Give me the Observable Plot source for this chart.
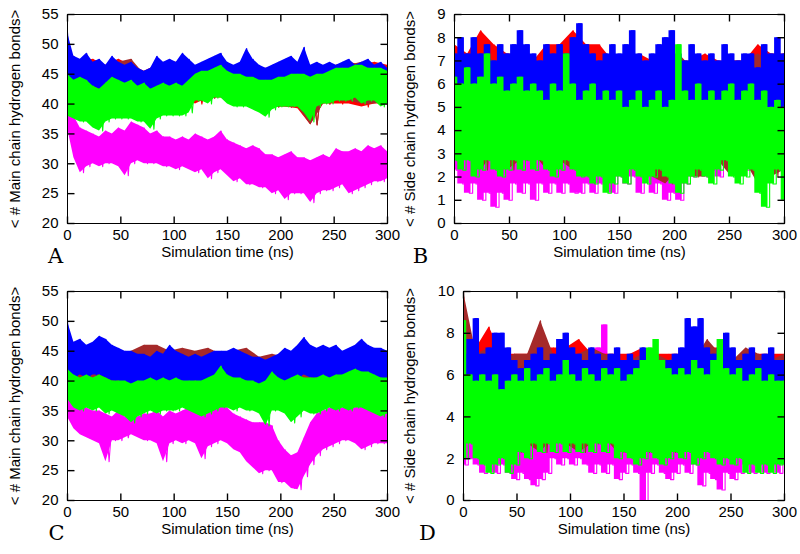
<!DOCTYPE html>
<html><head><meta charset="utf-8">
<script src="https://cdn.jsdelivr.net/npm/d3@7"></script>
<script src="https://cdn.jsdelivr.net/npm/@observablehq/plot@0.6"></script>
<style>
html,body{margin:0;padding:0;background:#fff;}
#fig{position:relative;width:800px;height:554px;overflow:hidden;}
#fig > div, #fig > svg{position:absolute;}
</style></head><body><div id="fig"></div>
<script>
// ---------- sampling grids (ns) ----------
const timeFine = [0,6,12,18,24,30,36,42,48,54,60,66,72,78,84,90,96,102,108,114,120,126,132,138,144,150,156,162,168,174,180,186,192,198,204,210,216,222,228,234,240,246,252,258,264,270,276,282,288,294,300];
const timeCoarse = [0,12,24,36,48,60,72,84,96,108,120,132,144,156,168,180,192,204,216,228,240,252,264,276,288,300];
const xTicks = [0,50,100,150,200,250,300];
const mainTicks = [20,25,30,35,40,45,50,55];
const sideTicksB = [0,1,2,3,4,5,6,7,8,9];
const sideTicksD = [0,2,4,6,8,10];
const xLabel = "Simulation time (ns)";
const mainLabel = "< # Main chain hydrogen bonds>";
const sideLabel = "< # Side chain hydrogen bonds>";
const colors = {red:"#ff0000", brown:"#a52a2a", magenta:"#ff00ff", blue:"#0000ff", green:"#00ff00"};

// ---------- Panel A : main chain (upper envelope / lower envelope) ----------
const aRedHi = [49,47,47.5,46.5,47.5,46.5,45.5,46.5,47,47,46,46.5,47,46,46.5,46,46,46.5,46,46,46,46.5,47,46.5,47,46.5];
const aRedLo = [40.5,41,40,40,40,40,40,40,41,41,40,41,41,40,40,39,39.5,39.5,39.2,36.5,40,40,40,39.5,40,40];
const aBrownHi = [48,46.5,47,46,47,47.5,45,46,46.5,46,45.5,46,46.5,46,46,45.5,45.5,46,46.5,45.5,46,46,46.5,47,46.5,46];
const aBrownLo = [41,40.5,40.5,40.5,40.5,40.5,40.5,40.5,41,41,40.5,41,41.5,40.5,40,39.5,39.5,39.5,39.5,36.5,40,40.5,40.5,40,40,40.5];
const aMagHi = [40,38,36,35.5,35,34.5,35.5,35,36,35.5,37,36.5,36,35,35.5,34.5,34.5,34,34.5,34,35,34.5,34,34.5,35.5,34,33.5,33,32.5,33,32.5,31.5,31.5,31,31.5,32,31,31,30.5,31,31.5,31,32.5,32,32,32.5,32,33,32.5,33,32];
const aMagLo = [36,31,28.5,29.5,30,29.5,30,30,29.5,28,30,30.5,30,30,30,29.5,29.5,29,29.5,29,28.5,29,27.5,28.5,29,28,27,27.5,26.5,26.5,26,26,25,25.5,24,25,25,25,23.5,25,25.5,25.5,26,26.5,25,25.5,26,26.5,27,27,27.5];
const aBlueHi = [52,48,47.5,48.5,47,47.5,46.5,48,47,46.5,47,46,45.5,46,48,47,47.5,47,48.5,47.5,46.5,47,47.5,48,48.5,47,46.5,47,49.3,47.5,46.5,46,46.5,47,47.5,48,47,49.5,46.5,47,46.5,47,46.5,47,47.5,46.5,47,47.5,46.5,47,46];
const aBlueLo = [44,43,43.5,42.5,43,42.5,42,42.5,42,42.5,41.5,42,41,41,42,42.5,43,42.5,43,42.5,43,43.5,43,43.5,44,43.5,43,43.5,43,43,42.5,42.5,42.5,43,43,43.5,43,43,43.5,43.5,43.5,43.5,43.5,43,42.5,41,42,43,43,43.5,43];
const aGreenHi = [45,44,44.5,44,43,42.5,43.5,44.5,44,43.5,44,43,43.5,42.5,43,43.5,43,43.5,43,44,45,45.5,45.5,46,46.5,45.5,45,45,44.5,44.5,44,44,44,44.5,44.5,45,45,45,44.5,45,45,45.5,46,46,46,46.5,46.5,46,46,46,45.5];
const aGreenLo = [38,37.5,37,37,36,35.5,37,37.5,37.5,37.5,37.5,37,37,35.8,37.5,38,38,38,38,38.5,40.5,40.5,40,41,41,40,39.5,39.5,39.5,39,38.5,37.8,39,39.5,39.5,39.5,39.5,38.5,37,39.5,40,40,40.5,40.5,40.5,41,40,40.5,40.5,39.5,40];

// ---------- Panel B : side chain ----------
const bRedHi = [7.7,7.3,8.3,7.7,7.3,7.3,7,7.7,7.7,8.3,7.7,7.7,7,7,7.3,7,7.3,7,7,7.3,7,7,7,7.7,7.3,7.3];
const bRedLo = [4,3.7,4,3.7,4,3.7,4.3,4,3.7,4,3.7,4,4.3,4,3.7,4,4.3,4,3.7,4,4.3,4,3.7,4,4.3,4];
const bBrownHi = [7,6.7,7.3,7,6.7,7,7,6.7,7.3,7,6.7,7,6.7,7,7,6.7,7,7.3,6.7,7,6.7,7,7,7.3,7,7.3];
const bBrownLo = [3.3,3,2.3,3,2.3,2.7,3,2.3,2.7,2.3,2.7,2.7,2.7,2.7,2.3,2,1.7,2.3,2,2,2.7,2,2.7,1.7,2,2.3];
const bMagHi = [5,4.7,5,4.7,4.3,5,4.7,4.3,4.7,5,5.3,4.7,5,4.7,4.3,4.7,5,4.7,4.3,4.7,4.3,4.7,5,4.7,4.3,4.7,5,4.7,4.3,4.7,4.7,4.3,4.7,5,4.7,5,5.3,5,4.7,5,5.3,5,5.3,5.7,5.3,6,6.7,6.3,5,4.7,4.7];
const bMagLo = [2.3,1.7,1.3,1.7,1,1.3,0.7,1.3,1,1.7,1.3,1.7,1,1.7,1.3,1.7,1.3,1.7,1.3,1.3,1.7,1.3,1.7,1.7,1.3,2,1.7,2,1.3,2,1.3,1.7,1,1.3,1,1.7,2,2.3,2,2.3,2,2.7,2.3,2.7,2.3,2.7,2.3,2.7,2.3,2.7,2.3];
const bBlueHi = [7.3,8,7.3,8,7.3,7.7,7,7.7,7.3,7.7,8.3,7.7,7.3,7,7.7,7.3,7.7,7.3,8,8.6,7.7,7.3,7,7.3,7.7,7.3,7.7,8.3,7.3,7,7.3,7.7,8,8.3,7.3,7,7.7,7.3,7,7.3,7,7.7,7.3,7,7.3,7.3,6.7,7.7,7.3,8,7.3];
const bBlueLo = [5.7,5.3,5.3,5.7,5,5.3,5.7,5,5.3,5.7,5,5.3,4.7,5.3,5,4.7,5.3,5,4.7,5.3,5,4.7,5,4.3,5,4.7,5,5.3,4.7,5,4.7,4.3,4.7,5,4.7,5,5.3,4.7,5,4.3,5,5.3,4.7,5,4.3,4.7,5,4.7,4.3,5,4.7];
const bGreenHi = [6.3,6,6.7,6,6.3,7.3,6,6.3,5.7,6,6.3,5.7,6,5.7,5.3,6,5.7,7.3,6,5.3,5.7,6,5.3,5.7,5.3,5.7,5,5.3,5.7,5,5.3,5.7,5,5.3,7.7,5.7,5.3,6,5.3,5.7,5.3,5.7,6,5.3,5.7,6,5.3,5.7,5,5.3,5];
const bGreenLo = [2.7,2.3,2.7,2,2.3,2.7,2.3,2,2.3,2.7,2.3,2.7,2.3,2.7,2.3,2,2.3,2.7,2.3,2,2,1.7,2,1.3,1.7,2,1.7,2.3,2,1.7,2,2.3,2,1.7,1.3,1.7,2,2.3,2,1.7,2.3,2.7,2,1.7,2,2.3,1.3,0.7,1.7,2.3,1];

// ---------- Panel C : main chain ----------
const cRedHi = [48,44,43.5,43.5,43,43,43.5,43,43.5,44,43,43.5,43.5,43,43.5,42.5,42.5,43,43.5,43,43,43.5,44,43,43.5,43];
const cRedLo = [38,38.5,38.5,38,38,37.5,37.5,38,38,37.5,38,38,38,38,38,37,37.5,38,38,38,38,38.5,38.5,38,38,38];
const cBrownHi = [47,44.5,44,44,44.5,45,46,46,45,45.5,45,45.5,44.5,45,45.5,44,44.5,44,44.5,44,44,44.5,44.5,45,44.5,44];
const cBrownLo = [39,39,39.5,39,38.5,38.5,38,38.5,38.5,38.5,38.5,38.5,38.5,38.5,38.5,38,38,38.5,38.5,39,38.5,39,39,38.5,38.5,38.5];
const cMagHi = [38,36.5,36,35.5,35,35,34.5,34,35,34,33.5,34,34.5,34.5,35,34,35,34.5,35,35.5,35,34.5,35,35.5,36.5,35.5,34.5,34,33.5,33,33,33,32.5,30,28.5,27.5,28,30.5,33,34.5,35,35.5,35.5,35.5,36,35.5,36.5,36,35.5,35.5,35];
const cMagLo = [34,32,31,30.5,30,29.5,26.5,30,30,30.5,31,30.5,30,30,29.5,26.5,29.5,30,29.5,30,29.5,27,29,29.5,30,29.5,28.5,28,26.5,25.5,24.5,25,25,23,23,22,21.8,24,26,27.5,28.5,29,29.5,30,30,29.5,28.5,29,29.5,29.5,29.5];
const cBlueHi = [50,46.5,47,46,46.5,47.5,47,46,45.5,45,45,44.5,44.5,44,45,44.5,46,45,44.5,44,44.5,44,44.5,45,45,45,45.5,45,44.5,44,44,43.5,44,44.5,45.5,45,46,47.3,46,45.5,46,45.5,46,45,45.5,46,47,46,45.5,45.5,45];
const cBlueLo = [42,40.5,41,40.5,41,41,40.5,40,40,39.5,39,39.5,39.5,39.5,39.5,40,40,40,40,39.5,40,39.5,40,40,40,40.5,40,40,40,39.5,39,38.5,39,39.5,40,40,40.5,41,40.5,40.5,40.5,40,40.5,40.5,41,41,41,41,40.5,40.5,40];
const cGreenHi = [42,41,40.5,41,40.5,41,40.5,40,40,40,39.5,40,40,40.5,40,40.5,40,40.5,40,40,40,40,40.5,41,42.5,41,40.5,40.5,40,40,39.5,40,41.5,40.5,40,40.5,41,40.5,40.5,40.5,41,40.5,41,41,41.5,42,41.5,41.5,41,40.5,40.5];
const cGreenLo = [37,35.5,35,35.5,35,35.5,34.5,35,34.5,34,33,34,34.5,35,34.5,35,35,35,35.5,35,34.5,34,34.5,35,35.5,35.5,35,35.5,35,35,34.5,32.5,35,35,34.5,33,34,35,34.5,34.5,35,35.5,35,35.5,35,35.5,35.5,35,34.5,34,34.5];

// ---------- Panel D : side chain ----------
const dRedHi = [7.3,7.3,8.3,7,7,7,7.3,7.3,7.3,7.7,7,7,7,7,7.3,7,7,7,7,7.3,7.3,6.7,6.7,7,7,7];
const dRedLo = [4,3.7,4,3.7,4,4.3,3.7,4,4.3,3.7,4,4.3,4,3.7,4,4.3,4,3.7,4,4.3,4,3.7,4,4.3,4,4];
const dBrownHi = [10,7,7.3,6.7,7,7,8.6,7,6.7,7,7.3,7,6.7,6.7,7,7,6.7,7,6.7,7.7,7,6.7,7.3,7,6.7,7];
const dBrownLo = [3,2.7,2.3,2.7,2.3,2.7,2.3,3,2.7,2.3,2.7,3,2.3,2.7,2.3,2.7,2.3,2.7,3,2.3,2.7,2.3,2.7,2,2.3,2.7];
const dMagHi = [5,5.3,4.7,5,4.7,5,4.3,5,4.7,5,4.7,5.3,5,4.7,5,5.3,5,4.7,5,5.3,6,7.3,8.4,6,5.3,5,4.7,5,5.3,5,5.7,5,5.3,5,4.7,5,5.3,5,4.7,5,5.3,5,4.7,5,5.3,5,4.7,5,5.3,5,4.7];
const dMagLo = [1.7,2,1.7,1.3,1.7,1.3,1.7,1.3,1,1.3,1,0.7,1,1.3,2,1.7,2,1.7,2,1.7,1.3,1.7,1.3,1.7,1,1.3,1.7,1.3,0,1.3,1.7,1.3,1,1.3,1.7,1.3,1.7,0.7,1.3,1,0.5,1.3,1,1.3,1.7,1.3,1.7,1.3,1.7,1.3,1.7];
const dBlueHi = [7,7.7,8.7,7,7.3,8,8,7.3,6.7,6.3,6.7,7,7.3,6.7,7,7.7,8,7.3,7,6.7,7.3,7,6.7,7,7.3,6.7,7,6.7,7.3,7,6.7,6.3,6.7,7,7.3,8.7,8.3,8.7,7.3,7,7.3,8,7.3,6.7,7,7.3,6.7,7,7.3,6.7,6.7];
const dBlueLo = [5,5.3,4.7,5,4.7,4.3,5,4.7,4.3,4.7,5,4.7,4.3,5,4.7,5,4.3,5,4.7,5.3,5,4.7,5.3,5,4.7,5,5.3,5,5.3,4.7,5,4.7,5,5.3,4.7,5,4.3,5,4.7,5.3,5,4.3,5,5.3,4.7,5,5.3,5,4.7,5,4.7];
const dGreenHi = [8.6,6,5.7,6,5.7,6,5.3,5.7,6,5.7,6.3,5.7,6,6.3,5.7,6,6.7,6,5.7,6.3,6,5.7,6.3,6,6.3,5.7,6,6.3,6.7,7.3,7.7,6.7,6.3,6,6.3,6,6.7,6.3,6,6.7,7.7,6.3,6,6.3,5.7,6,6.3,5.7,6,5.7,5.7];
const dGreenLo = [2,2.7,2,1.7,1.3,1.7,2,1.3,1.7,2.3,2,2.7,2.3,2.7,2.3,2.7,2.3,2.7,2.3,2.7,2.3,2.7,2.3,2.7,2,2.3,2,1.7,2,2.3,2,1.7,2,2.3,2,2.3,1.7,2,2.3,2,1.7,2,1.7,2,1.3,1.7,1.3,1.7,1.3,1.7,1.7];

// ---------- helpers ----------
function bandRows(time, hi, lo) {
  return time.map((t, i) => ({t, hi: hi[i], lo: lo[i]}));
}
function traceRows(time, hi, lo) {
  const half = (time[1] - time[0]) / 2, tMax = time[time.length - 1];
  const rows = [];
  time.forEach((t, i) => {
    rows.push({t, v: hi[i]});
    rows.push({t: Math.min(t + half, tMax), v: lo[i]});
  });
  return rows;
}

const MT = 14, MB = 54, W = 400, H = 277, TICK = 7;
const X0 = 0, X1 = 300;

function panel(o) {
  const fw = W - o.mLeft - o.mRight, fh = H - MT - MB;
  const [y0, y1] = o.yDomain;
  const tyLen = (y1 - y0) * TICK / fh;   // tick length in y units
  const txLen = (X1 - X0) * TICK / fw;   // tick length in x units
  const marks = [];
  for (const s of o.series) {
    const curve = s.time === timeFine ? o.curve : "linear";
    marks.push(Plot.areaY(bandRows(s.time, s.hi, s.lo), {x: "t", y1: "lo", y2: "hi", fill: colors[s.color], curve, clip: true}));
    marks.push(Plot.line(traceRows(s.time, s.hi, s.lo), {x: "t", y: "v", stroke: colors[s.color], strokeWidth: 1.1, curve, clip: true}));
  }
  // tick segments: bottom, top, left, right
  const tickSegs = [
    ...xTicks.map(x => ({x1: x, x2: x, y1: y0, y2: y0 + tyLen})),
    ...xTicks.map(x => ({x1: x, x2: x, y1: y1 - tyLen, y2: y1})),
    ...o.yTicks.map(y => ({x1: X0, x2: X0 + txLen, y1: y, y2: y})),
    ...o.yTicks.map(y => ({x1: X1 - txLen, x2: X1, y1: y, y2: y}))
  ];
  marks.push(
    Plot.frame({stroke: "#000", strokeWidth: 1}),
    Plot.link(tickSegs, {x1: "x1", y1: "y1", x2: "x2", y2: "y2", stroke: "#000", strokeWidth: 1.4}),
    Plot.axisX({ticks: xTicks, anchor: "bottom", tickSize: 0, tickPadding: 6, fontSize: 15, label: null}),
    Plot.axisY({ticks: o.yTicks, anchor: "left", tickSize: 0, tickPadding: 9, fontSize: 15, label: null}),
    Plot.text([o.yLabel], {frameAnchor: "left", dx: o.labelDx, rotate: -90, fontSize: 15, lineAnchor: "middle", textAnchor: "middle"}),
    Plot.text([xLabel], {frameAnchor: "bottom", dy: 29, fontSize: 15, lineAnchor: "middle"}),
    Plot.text([o.letter], {frameAnchor: "bottom-left", dx: o.letterDx, dy: 33, fontSize: 21, fontFamily: "DejaVu Serif, serif", lineAnchor: "middle", textAnchor: "middle"})
  );
  const svg = Plot.plot({
    width: W, height: H,
    marginLeft: o.mLeft, marginRight: o.mRight, marginTop: MT, marginBottom: MB,
    x: {domain: [X0, X1]},
    y: {domain: o.yDomain},
    style: {fontFamily: "Liberation Sans, Arial, sans-serif", fontSize: "15px", color: "#000", background: "transparent", overflow: "visible"},
    marks
  });
  svg.style.left = o.left + "px";
  svg.style.top = o.top + "px";
  svg.style.position = "absolute";
  return svg;
}

const fig = document.getElementById("fig");
fig.append(panel({
  left: 0, top: 0, mLeft: 67, mRight: 13, yDomain: [20, 55], yTicks: mainTicks, yLabel: mainLabel, labelDx: -52, letter: "A", letterDx: -12, curve: "linear",
  series: [
    {color: "magenta", time: timeFine, hi: aMagHi, lo: aMagLo},
    {color: "red", time: timeCoarse, hi: aRedHi, lo: aRedLo},
    {color: "brown", time: timeCoarse, hi: aBrownHi, lo: aBrownLo},
    {color: "blue", time: timeFine, hi: aBlueHi, lo: aBlueLo},
    {color: "green", time: timeFine, hi: aGreenHi, lo: aGreenLo}
  ]
}));
fig.append(panel({
  left: 400, top: 0, mLeft: 54, mRight: 16, yDomain: [0, 9], yTicks: sideTicksB, yLabel: sideLabel, labelDx: -44, letter: "B", letterDx: -34, curve: "step",
  series: [
    {color: "magenta", time: timeFine, hi: bMagHi, lo: bMagLo},
    {color: "red", time: timeCoarse, hi: bRedHi, lo: bRedLo},
    {color: "brown", time: timeCoarse, hi: bBrownHi, lo: bBrownLo},
    {color: "blue", time: timeFine, hi: bBlueHi, lo: bBlueLo},
    {color: "green", time: timeFine, hi: bGreenHi, lo: bGreenLo}
  ]
}));
fig.append(panel({
  left: 0, top: 277, mLeft: 67, mRight: 13, yDomain: [20, 55], yTicks: mainTicks, yLabel: mainLabel, labelDx: -52, letter: "C", letterDx: -11, curve: "linear",
  series: [
    {color: "magenta", time: timeFine, hi: cMagHi, lo: cMagLo},
    {color: "red", time: timeCoarse, hi: cRedHi, lo: cRedLo},
    {color: "brown", time: timeCoarse, hi: cBrownHi, lo: cBrownLo},
    {color: "blue", time: timeFine, hi: cBlueHi, lo: cBlueLo},
    {color: "green", time: timeFine, hi: cGreenHi, lo: cGreenLo}
  ]
}));
fig.append(panel({
  left: 400, top: 277, mLeft: 63, mRight: 16, yDomain: [0, 10], yTicks: sideTicksD, yLabel: sideLabel, labelDx: -53, letter: "D", letterDx: -36, curve: "step",
  series: [
    {color: "magenta", time: timeFine, hi: dMagHi, lo: dMagLo},
    {color: "red", time: timeCoarse, hi: dRedHi, lo: dRedLo},
    {color: "brown", time: timeCoarse, hi: dBrownHi, lo: dBrownLo},
    {color: "blue", time: timeFine, hi: dBlueHi, lo: dBlueLo},
    {color: "green", time: timeFine, hi: dGreenHi, lo: dGreenLo}
  ]
}));
</script>
</body></html>
